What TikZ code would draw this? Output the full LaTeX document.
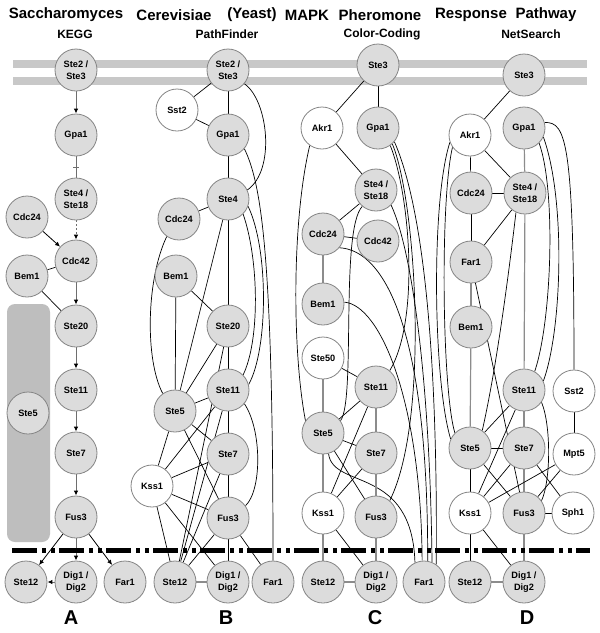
\documentclass[tikz,border=0pt]{standalone}
\usepackage{fontspec}
\setmainfont{Liberation Sans}
\usetikzlibrary{arrows.meta}
\definecolor{nodefill}{HTML}{DCDCDC}
\definecolor{nodeline}{HTML}{858585}
\definecolor{memb}{HTML}{C8C8C8}
\definecolor{scaf}{HTML}{BEBEBE}
\definecolor{kedge}{HTML}{8C8C8C}
\definecolor{aedge}{HTML}{6E6E6E}
\pgfdeclarelayer{bg}
\pgfdeclarelayer{edges}
\pgfsetlayers{bg,edges,main}
\begin{document}
\begin{tikzpicture}[x=1pt,y=-1pt,
  prot/.style={circle, draw=nodeline, fill=nodefill, line width=0.8pt, minimum size=42pt, inner sep=0pt, font=\fontsize{9.2}{11.5}\selectfont\bfseries, align=center},
  wprot/.style={prot, fill=white},
  e/.style={black, line width=0.7pt},
  ge/.style={kedge, line width=1.2pt},
  aline/.style={aedge, line width=1pt},
  garr/.style={aedge, line width=1pt, -{Latex[length=5pt,width=4.5pt,color=black]}},
  barr/.style={black, line width=0.8pt, -{Latex[length=5pt,width=4.5pt,color=black]}},
  ttl/.style={font=\fontsize{15}{18}\selectfont\bfseries, inner sep=0pt},
  sub/.style={font=\fontsize{12}{14}\selectfont\bfseries, inner sep=0pt},
  plab/.style={font=\fontsize{20}{22}\selectfont\bfseries, inner sep=0pt},
  sep/.style={line width=5pt, dash pattern=on 25pt off 5pt on 4pt off 5pt on 4pt off 4pt}
]
\useasboundingbox (0,0) rectangle (600,633);
\begin{pgfonlayer}{bg}
\fill[white] (0,0) rectangle (600,633);
\fill[memb] (13,60) rectangle (587,68);
\fill[memb] (13,77) rectangle (587,85);
\fill[scaf, rounded corners=8pt] (7,304) rectangle (50,542);
\end{pgfonlayer}

% titles
\node[ttl] (t1) at (66,15) {Saccharomyces};
\node[ttl] (t2) at (174,15) {Cerevisiae};
\node[ttl] (t3) at (252,15) {(Yeast)};
\node[ttl] (t4) at (307,15) {MAPK};
\node[ttl] (t5) at (380,15) {Pheromone};
\node[ttl] (t6) at (471,15) {Response};
\node[ttl] (t7) at (546,15) {Pathway};
\node[sub] (sa) at (75,34) {KEGG};
\node[sub] (sb) at (227,34) {PathFinder};
\node[sub] (sc) at (382,34) {Color-Coding};
\node[sub] (sd) at (531,34) {NetSearch};
\node[plab] (la) at (71,618) {A};
\node[plab] (lb) at (226,618) {B};
\node[plab] (lc) at (375,618) {C};
\node[plab] (ld) at (527,618) {D};

% ---------- panel A nodes
\node[prot] (s23a) at (76,70) {Ste2 /\\Ste3};
\node[prot] (gpa1a) at (76,135) {Gpa1};
\node[prot] (ste4a) at (76,199) {Ste4 /\\Ste18};
\node[prot] (cdc24a) at (27,217) {Cdc24};
\node[prot] (cdc42a) at (76,261) {Cdc42};
\node[prot] (bem1a) at (27,276) {Bem1};
\node[prot] (ste20a) at (76,326) {Ste20};
\node[prot] (ste11a) at (76,390) {Ste11};
\node[prot] (ste5a) at (28,413) {Ste5};
\node[prot] (ste7a) at (76,453) {Ste7};
\node[prot] (fus3a) at (76,517) {Fus3};
\node[prot] (ste12a) at (26,582) {Ste12};
\node[prot] (dig12a) at (76,582) {Dig1 /\\Dig2};
\node[prot] (far1a) at (125,582) {Far1};

% ---------- panel B nodes
\node[prot] (s23b) at (228,70) {Ste2 /\\Ste3};
\node[wprot] (sst2b) at (177,110) {Sst2};
\node[prot] (gpa1b) at (228,135) {Gpa1};
\node[prot] (ste4b) at (228,199) {Ste4};
\node[prot] (cdc24b) at (179,219) {Cdc24};
\node[prot] (bem1b) at (176,276) {Bem1};
\node[prot] (ste20b) at (228,326) {Ste20};
\node[prot] (ste11b) at (228,390) {Ste11};
\node[prot] (ste5b) at (175,411) {Ste5};
\node[prot] (ste7b) at (228,454) {Ste7};
\node[wprot] (kss1b) at (152,486) {Kss1};
\node[prot] (fus3b) at (228,518) {Fus3};
\node[prot] (ste12b) at (175,582) {Ste12};
\node[prot] (dig12b) at (228,582) {Dig1 /\\Dig2};
\node[prot] (far1b) at (273,582) {Far1};

% ---------- panel C nodes
\node[prot] (ste3c) at (378,65) {Ste3};
\node[wprot] (akr1c) at (322,128) {Akr1};
\node[prot] (gpa1c) at (378,128) {Gpa1};
\node[prot] (ste4c) at (376,190) {Ste4 /\\Ste18};
\node[prot] (cdc24c) at (323,234) {Cdc24};
\node[prot] (cdc42c) at (378,241) {Cdc42};
\node[prot] (bem1c) at (323,304) {Bem1};
\node[wprot] (ste50c) at (323,358) {Ste50};
\node[prot] (ste11c) at (376,387) {Ste11};
\node[prot] (ste5c) at (323,433) {Ste5};
\node[prot] (ste7c) at (376,453) {Ste7};
\node[wprot] (kss1c) at (323,513) {Kss1};
\node[prot] (fus3c) at (376,517) {Fus3};
\node[prot] (ste12c) at (323,582) {Ste12};
\node[prot] (dig12c) at (376,582) {Dig1 /\\Dig2};
\node[prot] (far1c) at (424,582) {Far1};

% ---------- panel D nodes
\node[prot] (ste3d) at (524,75) {Ste3};
\node[wprot] (akr1d) at (470,135) {Akr1};
\node[prot] (gpa1d) at (524,128) {Gpa1};
\node[prot] (cdc24d) at (471,193) {Cdc24};
\node[prot] (ste4d) at (525,193) {Ste4 /\\Ste18};
\node[prot] (far1d) at (471,262) {Far1};
\node[prot] (bem1d) at (471,327) {Bem1};
\node[prot] (ste11d) at (524,390) {Ste11};
\node[wprot] (sst2d) at (574,391) {Sst2};
\node[prot] (ste5d) at (470,448) {Ste5};
\node[prot] (ste7d) at (524,448) {Ste7};
\node[wprot] (mpt5d) at (574,454) {Mpt5};
\node[wprot] (kss1d) at (470,513) {Kss1};
\node[prot] (fus3d) at (524,513) {Fus3};
\node[wprot] (sph1d) at (573,513) {Sph1};
\node[prot] (ste12d) at (470,582) {Ste12};
\node[prot] (dig12d) at (524,582) {Dig1 /\\Dig2};

\begin{pgfonlayer}{edges}
% ---------- panel A edges
\draw[garr] (s23a) -- (gpa1a);
\draw[aline] (gpa1a) -- (ste4a);
\draw[aline] (73,167) -- (79,167);
\draw[garr, dash pattern=on 2pt off 2pt] (ste4a) -- (cdc42a);
\draw[barr] (cdc24a) -- (cdc42a);
\draw[e] (bem1a) -- (cdc42a);
\draw[e] (bem1a) -- (ste20a);
\draw[garr] (cdc42a) -- (ste20a);
\draw[garr] (ste20a) -- (ste11a);
\draw[garr] (ste11a) -- (ste7a);
\draw[garr] (ste7a) -- (fus3a);
\draw[barr] (fus3a) -- (ste12a);
\draw[garr] (fus3a) -- (dig12a);
\draw[barr] (fus3a) -- (far1a);
\draw[garr] (dig12a) -- (ste12a);

% ---------- panel B edges
\draw[e] (s23b) -- (sst2b);
\draw[e] (s23b) -- (gpa1b);
\draw[e] (sst2b) -- (gpa1b);
\draw[e] (s23b.-40) .. controls (268,100) and (276,170) .. (ste4b.25);
\draw[e] (gpa1b.-40) .. controls (262,185) and (273,260) .. (far1b.north);
\draw[e] (gpa1b) -- (ste4b);
\draw[e] (ste4b) -- (cdc24b);
\draw[e] (ste4b) -- (ste20b);
\draw[e] (ste4b) -- (ste5b);
\draw[e] (ste4b.-20) .. controls (269,250) and (268,350) .. (ste11b.15);
\draw[e] (ste4b.-45) .. controls (259,260) and (260,340) .. (ste11b.45);
\draw[e] (cdc24b.-125) .. controls (146,280) and (145,360) .. (ste5b.125);
\draw[e] (bem1b) -- (ste5b);
\draw[e] (bem1b) -- (ste20b);
\draw[e] (ste20b) -- (ste11b);
\draw[e] (ste20b) -- (ste5b);
\draw[e] (ste20b) -- (ste12b);
\draw[e] (ste11b) -- (ste5b);
\draw[e] (ste11b) -- (ste7b);
\draw[e] (ste11b) -- (kss1b);
\draw[e] (ste11b) -- (ste12b);
\draw[e] (ste11b.-40) .. controls (262,430) and (262,490) .. (fus3b.35);
\draw[e] (ste5b) -- (ste7b);
\draw[e] (ste5b) -- (kss1b);
\draw[e] (ste5b) -- (fus3b);
\draw[e] (kss1b) -- (ste7b);
\draw[e] (kss1b) -- (fus3b);
\draw[e] (kss1b) -- (dig12b);
\draw[e] (kss1b) -- (ste12b);
\draw[e] (ste7b) -- (fus3b);
\draw[e] (ste7b) -- (ste12b);
\draw[e] (fus3b) -- (ste12b);
\draw[e] (fus3b) -- (dig12b);
\draw[e] (fus3b) -- (far1b);
\draw[ge] (ste12b) -- (dig12b);

% ---------- panel C edges
\draw[e] (ste3c) -- (akr1c);
\draw[e] (ste3c) -- (gpa1c);
\draw[e] (akr1c) -- (ste4c);
\draw[e] (akr1c.-125) .. controls (292,220) and (292,350) .. (ste5c.145);
\draw[e] (ste4c) -- (cdc24c);
\draw[e] (ste4c.-130) .. controls (340,230) and (356,400) .. (ste5c.35);
\draw[e] (cdc24c) -- (cdc42c);
\draw[ge] (cdc24c) -- (bem1c);
\draw[e] (cdc24c.-40) .. controls (385,250) and (428,330) .. (far1c.80);
\draw[e] (bem1c.5) .. controls (380,305) and (421,400) .. (far1c.95);
\draw[e] (ste4c.-45) .. controls (412,250) and (430,380) .. (far1c.68);
\draw[e] (gpa1c.-40) .. controls (420,200) and (438,330) .. (far1c.55);
\draw[e] (gpa1c.-55) .. controls (410,195) and (420,320) .. (ste11c.50);
\draw[e] (gpa1c.-48) .. controls (416,200) and (430,420) .. (fus3c.50);
\draw[e] (ste50c) -- (ste11c);
\draw[ge] (ste50c) -- (ste5c);
\draw[e] (ste11c) -- (ste5c);
\draw[e] (ste11c) -- (kss1c);
\draw[ge] (ste11c) -- (ste7c);
\draw[e] (ste5c) -- (ste7c);
\draw[e] (ste5c) -- (fus3c);
\draw[ge] (ste5c) -- (kss1c);
\draw[e] (ste5c.-75) .. controls (333,490) and (412,465) .. (far1c.115);
\draw[e] (ste7c) -- (kss1c);
\draw[ge] (ste7c) -- (fus3c);
\draw[ge] (kss1c) -- (ste12c);
\draw[e] (kss1c) -- (dig12c);
\draw[ge] (fus3c) -- (dig12c);
\draw[ge] (ste12c) -- (dig12c);

% ---------- panel D edges
\draw[e] (ste3d) -- (akr1d);
\draw[e] (akr1d) -- (cdc24d);
\draw[e] (akr1d) -- (ste4d);
\draw[e] (akr1d.-160) .. controls (431,200) and (433,380) .. (ste5d.155);
\draw[e] (akr1d.-145) .. controls (440,200) and (442,390) .. (ste5d.135);
\draw[e] (cdc24d) -- (ste4d);
\draw[e] (cdc24d) -- (far1d);
\draw[e] (ste4d) -- (far1d);
\draw[e] (ste4d.-115) .. controls (508,280) and (496,370) .. (ste5d.55);
\draw[ge] (gpa1d) -- (ste4d);
\draw[e] (gpa1d.-45) .. controls (556,190) and (552,320) .. (ste11d.60);
\draw[e] (gpa1d.-25) .. controls (566,200) and (562,330) .. (ste11d.25);
\draw[e] (gpa1d.15) .. controls (566,122) and (574,140) .. (sst2d.north);
\draw[ge] (ste4d) -- (ste11d);
\draw[ge] (far1d) -- (bem1d);
\draw[e] (far1d) -- (fus3d);
\draw[ge] (bem1d) -- (ste5d);
\draw[e] (ste11d) -- (ste5d);
\draw[e] (ste11d) -- (kss1d);
\draw[ge] (ste11d) -- (ste7d);
\draw[e] (ste11d.-35) .. controls (551,425) and (551,480) .. (fus3d.35);
\draw[e] (sst2d) -- (mpt5d);
\draw[e] (ste5d) -- (ste7d);
\draw[e] (ste5d) -- (kss1d);
\draw[e] (ste5d) -- (fus3d);
\draw[e] (ste7d) -- (kss1d);
\draw[ge] (ste7d) -- (fus3d);
\draw[e] (ste7d) -- (sph1d);
\draw[e] (mpt5d) -- (kss1d);
\draw[e] (mpt5d) -- (fus3d);
\draw[e] (fus3d) -- (sph1d);
\draw[ge] (fus3d) -- (dig12d);
\draw[e] (kss1d) -- (ste12d);
\draw[e] (kss1d) -- (dig12d);
\draw[ge] (ste12d) -- (dig12d);

% separator
\draw[sep] (12,550) -- (590,550);
\end{pgfonlayer}
\end{tikzpicture}
\end{document}
